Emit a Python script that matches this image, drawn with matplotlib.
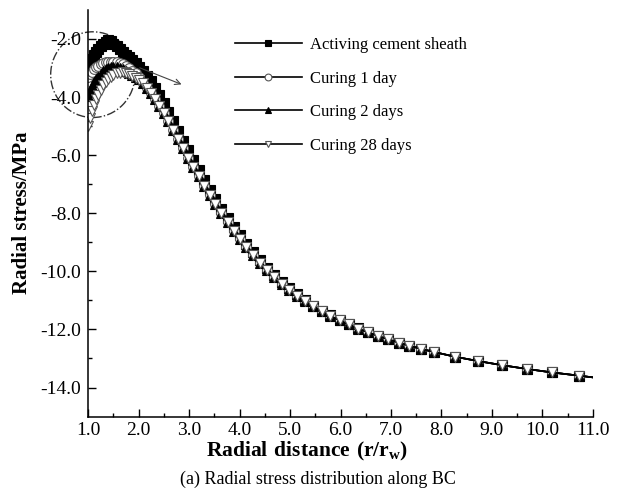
import matplotlib
matplotlib.use("Agg")
import matplotlib.pyplot as plt
from matplotlib.patches import Ellipse

plt.rcParams['font.family'] = ['Liberation Serif', 'DejaVu Serif']
plt.rcParams['mathtext.fontset'] = 'custom'
plt.rcParams['mathtext.rm'] = 'Liberation Serif'
plt.rcParams['mathtext.bf'] = 'Liberation Serif:bold'

# r/rw positions of the nodes along BC
head_x = [1.00, 1.04, 1.08, 1.12, 1.16, 1.20, 1.25, 1.30, 1.35, 1.40,
          1.45, 1.50, 1.56, 1.62, 1.68, 1.74, 1.80, 1.87, 1.94, 2.01]
tail_x = [2.08, 2.16, 2.24, 2.32, 2.41, 2.50, 2.59, 2.68, 2.78, 2.88,
          2.98, 3.08, 3.19, 3.30, 3.41, 3.52, 3.64, 3.76, 3.88, 4.00,
          4.13, 4.26, 4.40, 4.54, 4.68, 4.83, 4.98, 5.14, 5.30, 5.46,
          5.63, 5.80, 5.98, 6.16, 6.35, 6.54, 6.74, 6.94, 7.15, 7.36,
          7.60, 7.86, 8.27, 8.73, 9.20, 9.69, 10.19, 10.72, 11.00]

# radial stress (MPa), near-wellbore part
head_active = [-2.92, -2.80, -2.68, -2.57, -2.46, -2.36, -2.26, -2.17, -2.09, -2.03,
               -2.08, -2.16, -2.26, -2.36, -2.45, -2.54, -2.63, -2.73, -2.84, -2.96]
head_1day = [-3.32, -3.22, -3.13, -3.05, -2.98, -2.93, -2.88, -2.84, -2.81, -2.79,
             -2.78, -2.78, -2.79, -2.82, -2.86, -2.92, -3.00, -3.09, -3.19, -3.30]
head_2days = [-3.95, -3.78, -3.63, -3.50, -3.39, -3.30, -3.20, -3.12, -3.05, -3.00,
              -2.97, -2.96, -2.97, -3.00, -3.05, -3.11, -3.17, -3.23, -3.30, -3.37]
head_28days = [-5.00, -4.72, -4.48, -4.27, -4.08, -3.92, -3.75, -3.60, -3.48, -3.38,
               -3.30, -3.24, -3.19, -3.16, -3.15, -3.17, -3.21, -3.27, -3.33, -3.40]

# far field part (the three curing cases overlap)
tail_active = [-3.10, -3.27, -3.46, -3.68, -3.94, -4.22, -4.51, -4.82, -5.16, -5.50,
               -5.84, -6.17, -6.52, -6.86, -7.19, -7.51, -7.84, -8.16, -8.47, -8.76,
               -9.06, -9.34, -9.62, -9.88, -10.12, -10.36, -10.58, -10.79, -10.99, -11.18,
               -11.35, -11.52, -11.67, -11.82, -11.96, -12.09, -12.21, -12.33, -12.45, -12.56,
               -12.67, -12.78, -12.94, -13.09, -13.23, -13.36, -13.48, -13.59, -13.65]
tail_cured = [-3.52, -3.68, -3.86, -4.06, -4.30, -4.56, -4.84, -5.13, -5.45, -5.77,
              -6.09, -6.40, -6.73, -7.05, -7.36, -7.67, -7.99, -8.30, -8.60, -8.88,
              -9.17, -9.44, -9.71, -9.96, -10.19, -10.42, -10.63, -10.84, -11.03, -11.21,
              -11.38, -11.54, -11.69, -11.83, -11.97, -12.10, -12.22, -12.34, -12.45, -12.56,
              -12.67, -12.78, -12.94, -13.09, -13.23, -13.36, -13.48, -13.59, -13.65]

labels = ['Activing cement sheath', 'Curing 1 day', 'Curing 2 days', 'Curing 28 days']
xticks = [1.0, 2.0, 3.0, 4.0, 5.0, 6.0, 7.0, 8.0, 9.0, 10.0, 11.0]
yticks = [-2.0, -4.0, -6.0, -8.0, -10.0, -12.0, -14.0]

x_all = head_x + tail_x
series = [
    (head_active + tail_active, 's', 'black', 'black'),
    (head_1day + tail_cured, 'o', 'white', '#555555'),
    (head_2days + tail_cured, '^', 'black', 'black'),
    (head_28days + tail_cured, 'v', 'white', '#555555'),
]

fig = plt.figure(figsize=(6.26, 4.93), dpi=100)
ax = fig.add_axes([0.141, 0.155, 0.806, 0.825])

for (ys, mk, fc, ec), lab in zip(series, labels):
    ax.plot(x_all, ys, color='black', lw=1.2, marker=mk, ms=7,
            mfc=fc, mec=ec, mew=0.8, markevery=slice(0, -1), label=lab)

# dash-dot circle around the near-wellbore zone and the arrow
circ = Ellipse((1.09, -3.23), 1.67, 2.95, fill=False, ls='-.', lw=1.0,
               ec='#333333', clip_on=False)
ax.add_patch(circ)
ax.annotate('', xy=(2.9, -3.6), xytext=(1.97, -2.96),
            arrowprops=dict(arrowstyle='->', color='#444444', lw=0.8))

ax.set_xlim(1.0, 11.0)
ax.set_ylim(-15.0, -1.0)
ax.set_xticks(xticks)
ax.set_xticklabels(['%.1f' % t for t in xticks])
ax.set_yticks(yticks)
ax.set_yticklabels(['%.1f' % t for t in yticks])
ax.set_xticks([1.5 + i for i in range(10)], minor=True)
ax.set_yticks([-3.0, -5.0, -7.0, -9.0, -11.0, -13.0], minor=True)

ax.spines['top'].set_visible(False)
ax.spines['right'].set_visible(False)
for s in ['left', 'bottom']:
    ax.spines[s].set_linewidth(1.1)
ax.tick_params(which='both', direction='in', width=1.0, labelsize=14)
ax.tick_params(which='major', length=6)
ax.tick_params(which='minor', length=3)
ax.tick_params(axis='y', pad=5)
ax.tick_params(axis='x', pad=4)

ax.set_ylabel('Radial stress/MPa', fontsize=15, fontweight='bold', labelpad=6)
fig.text(0.49, 0.085, r'$\mathbf{Radial\ distance\ (r/r_w)}$', fontsize=15.5,
         ha='center', va='center')
fig.text(0.508, 0.028, '(a) Radial stress distribution along BC', fontsize=13,
         ha='center', va='center')

leg = ax.legend(loc='upper left', bbox_to_anchor=(0.291, 0.933), frameon=False,
                fontsize=12, handlelength=4.0, handletextpad=0.5,
                labelspacing=1.05, borderpad=0, borderaxespad=0, markerscale=0.7)

fig.savefig('out.png', dpi=100)
